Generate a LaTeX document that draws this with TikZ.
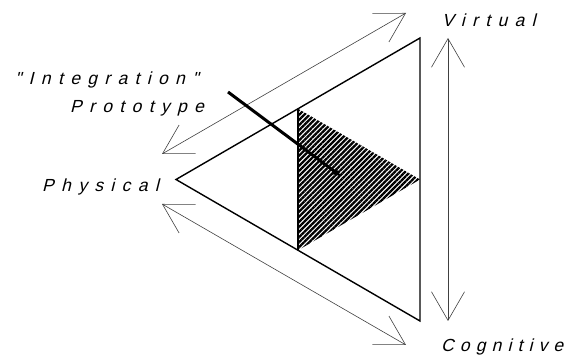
\documentclass[tikz,border=0pt]{standalone}
\usepackage{fontspec}
\newfontfamily\isofont{Liberation Sans}[LetterSpace=42,FakeSlant=0.25]
\newfontfamily\isofontn{Liberation Sans}[LetterSpace=35,FakeSlant=0.25]
\usetikzlibrary{arrows.meta,patterns.meta}
\begin{document}
\begin{tikzpicture}[x=1pt,y=-1pt,
  tri/.style={line width=1.4pt,black,line join=miter},
  thinarrow/.style={line width=0.6pt,black!75,{Straight Barb[length=28.6pt,width=33pt]}-{Straight Barb[length=28.6pt,width=33pt]}},
  pointer/.style={line width=3pt,black,-{Latex[length=10pt,width=8pt]}},
  lbl/.style={anchor=base west,inner sep=0pt,font=\isofont\fontsize{17.5}{22}\selectfont}]
\useasboundingbox (0,0) rectangle (574,358);
% triangle corners
\coordinate (P) at (176,179.5);
\coordinate (V) at (420,38);
\coordinate (C) at (420,321);
\coordinate (PV) at (298,108.75);
\coordinate (PC) at (298,250.25);
\coordinate (VC) at (420,179.5);
% hatched inner triangle
\fill[pattern={Lines[angle=45,distance=3.6pt,line width=2.3pt]}] (PV) -- (PC) -- (VC) -- cycle;
\draw[tri] (P) -- (V) -- (C) -- cycle;
\draw[tri] (PV) -- (PC);
% double arrows
\coordinate (a1) at (162,154);
\coordinate (a2) at (406,13);
\coordinate (b1) at (162,204);
\coordinate (b2) at (406,345);
\coordinate (c1) at (448,38);
\coordinate (c2) at (448,321);
\draw[thinarrow] (a1) -- (a2);
\draw[thinarrow] (b1) -- (b2);
\draw[thinarrow] (c1) -- (c2);
% pointer
\coordinate (t1) at (228,92);
\coordinate (t2) at (342,177);
\draw[pointer] (t1) -- (t2);
% labels
\node[lbl] (virt) at (442,27) {Virtual};
\node[lbl,font=\isofontn\fontsize{17.5}{22}\selectfont] (cogn) at (441,352) {Cognitive};
\node[lbl] (phys) at (42,192) {Physical};
\node[lbl] (integ) at (15,85) {"Integration"};
\node[lbl] (proto) at (70,113) {Prototype};
\end{tikzpicture}
\end{document}
